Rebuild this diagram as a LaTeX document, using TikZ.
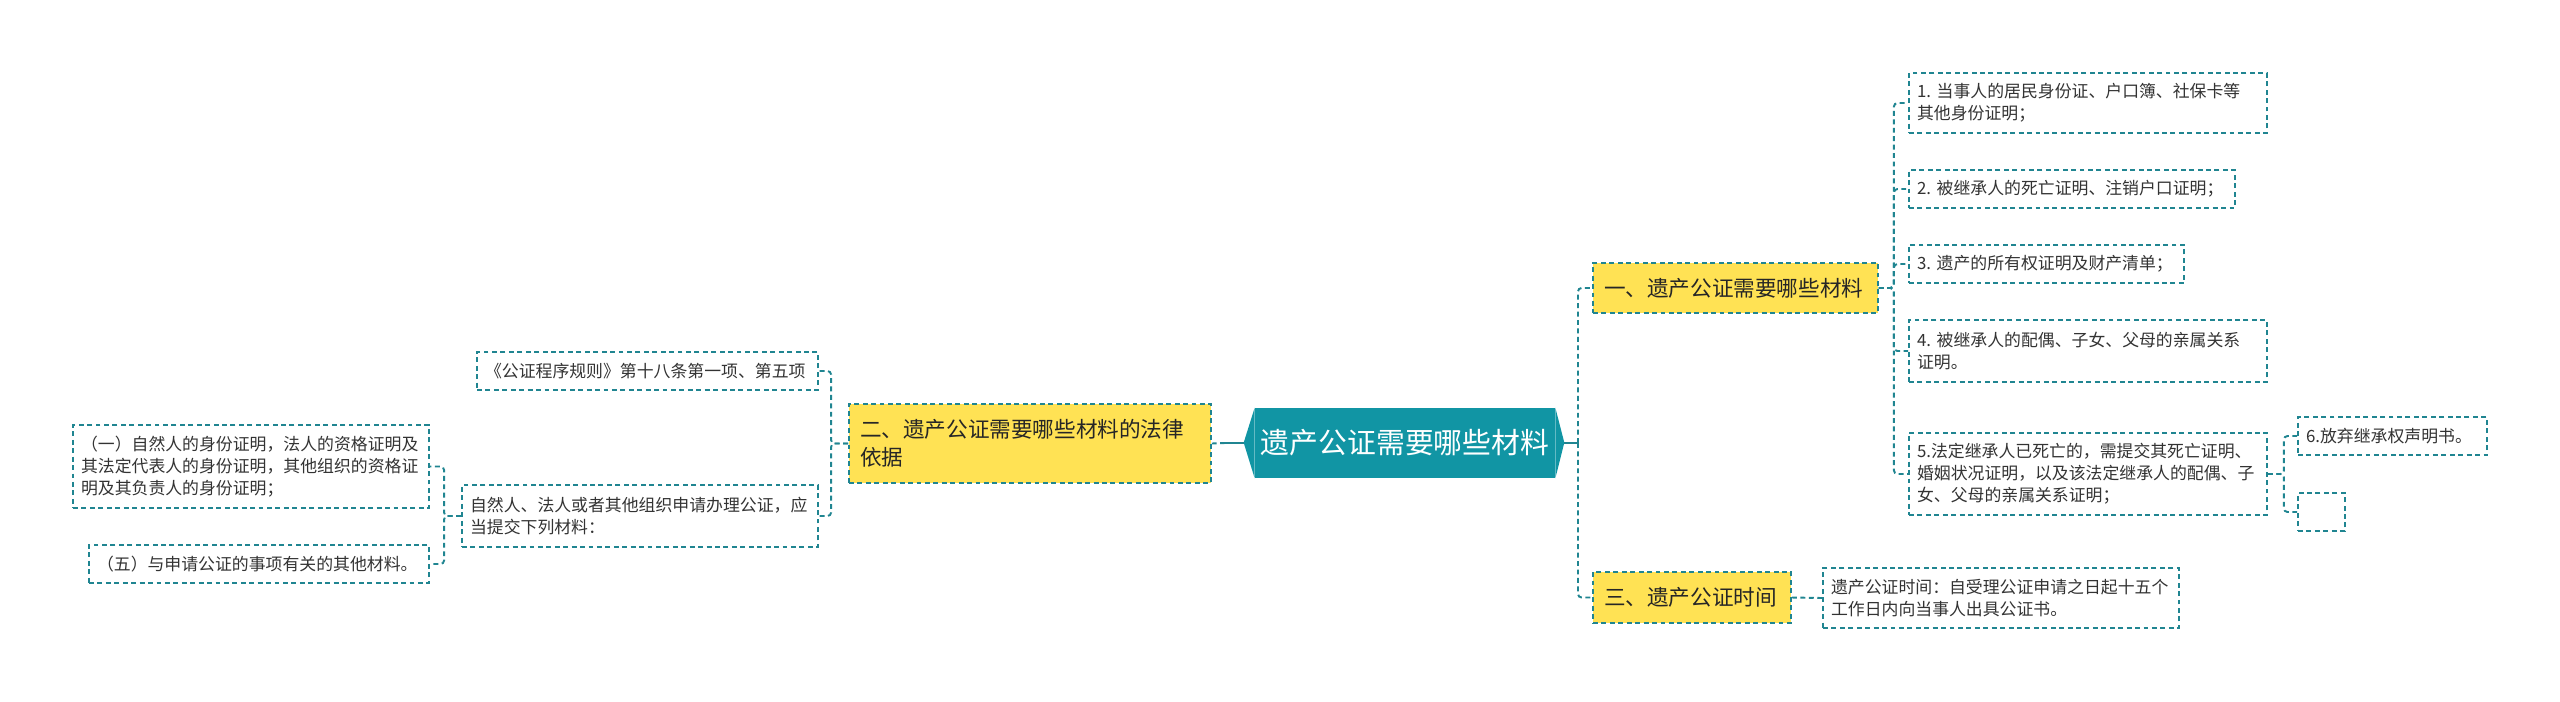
\documentclass[tikz,border=0pt]{standalone}
\usepackage{fontspec}
\newfontfamily\cjk{Noto Sans CJK SC}
\definecolor{rootfill}{RGB}{17,149,164}
\definecolor{linkc}{RGB}{32,133,145}
\definecolor{topicfill}{RGB}{255,226,84}
\definecolor{txt}{RGB}{51,51,51}

\begin{document}
\begin{tikzpicture}[x=0.02cm,y=-0.02cm,
    rootbox/.style={fill=rootfill, text=white,
        font=\cjk\fontsize{16.4pt}{20pt}\selectfont,
        minimum width=6.0cm, minimum height=1.4cm, inner sep=0pt},
    topic/.style={draw=linkc, line width=1.1pt, dash pattern=on 2.8pt off 2pt,
        fill=topicfill, text=black!85, align=left, inner xsep=0.22cm, inner ysep=0.1cm,
        font=\cjk\fontsize{12.3pt}{15.9pt}\selectfont},
    leaf/.style={draw=linkc, line width=1.1pt, dash pattern=on 2.8pt off 2pt,
        fill=white, text=txt, align=left, inner xsep=0.16cm, inner ysep=0.1cm,
        font=\cjk\fontsize{9.6pt}{12.5pt}\selectfont},
    link/.style={draw=linkc, line width=1.1pt, dash pattern=on 2.8pt off 2pt, rounded corners=2pt},
    rootline/.style={draw=linkc, line width=1.4pt}]
\useasboundingbox (0,0) rectangle (2560,701);

\node[rootbox] (root) at (1405,443) {遗产公证需要哪些材料};
\fill[rootfill] (root.north east) -- ++(9,35) -- (root.south east) -- cycle;
\fill[rootfill] (root.north west) -- ++(-11,35) -- (root.south west) -- cycle;

\node[topic, text width=5.26cm, minimum height=1cm] (mat) at (1735.5,288) {一、遗产公证需要哪些材料};
\node[topic, text width=3.52cm, minimum height=1.02cm] (time) at (1692,597.5) {三、遗产公证时间};
\node[topic, text width=6.8cm, minimum height=1.58cm] (law) at (1030,443.5) {二、遗产公证需要哪些材料的法律\\依据};

\node[leaf, text width=6.84cm, minimum height=1.2cm] (m1) at (2088,103) {1.~当事人的居民身份证、户口簿、社保卡等\\其他身份证明；};
\node[leaf, text width=6.2cm, minimum height=0.76cm] (m2) at (2072,189) {2.~被继承人的死亡证明、注销户口证明；};
\node[leaf, text width=5.18cm, minimum height=0.76cm] (m3) at (2046.5,264) {3.~遗产的所有权证明及财产清单；};
\node[leaf, text width=6.84cm, minimum height=1.24cm] (m4) at (2088,351) {4.~被继承人的配偶、子女、父母的亲属关系\\证明。};
\node[leaf, text width=6.84cm, minimum height=1.64cm] (m5) at (2088,474) {5.法定继承人已死亡的，需提交其死亡证明、\\婚姻状况证明，以及该法定继承人的配偶、子\\女、父母的亲属关系证明；};
\node[leaf, text width=3.46cm, minimum height=0.76cm] (m6) at (2392.5,436) {6.放弃继承权声明书。};
\node[leaf, minimum width=0.94cm, minimum height=0.76cm] (mx) at (2321.5,512) {};

\node[leaf, text width=6.8cm, minimum height=1.2cm] (tm) at (2001,598) {遗产公证时间：自受理公证申请之日起十五个\\工作日内向当事人出具公证书。};

\node[leaf, text width=6.5cm, minimum height=0.76cm] (rule) at (647.5,371) {《公证程序规则》第十八条第一项、第五项};
\node[leaf, text width=6.8cm, minimum height=1.24cm] (apply) at (640,516) {自然人、法人或者其他组织申请办理公证，应\\当提交下列材料：};
\node[leaf, text width=6.8cm, minimum height=1.66cm] (id) at (251,466.5) {（一）自然人的身份证明，法人的资格证明及\\其法定代表人的身份证明，其他组织的资格证\\明及其负责人的身份证明；};
\node[leaf, text width=6.48cm, minimum height=0.76cm] (other) at (259,564) {（五）与申请公证的事项有关的其他材料。};

\coordinate (rr) at (1578,443);
\coordinate (rl) at (1225,443);
\draw[rootline] (root.east) ++(9,0) -- (rr);
\draw[link] (rr) |- (mat.west);
\draw[link] (rr) |- (time.west);
\draw[rootline] (root.west) ++(-11,0) -- (rl);
\draw[link] (rl) -- (law.east);

\draw[link] (mat.east) -- ++(15,0) |- (m1.west);
\draw[link] (mat.east) -- ++(15,0) |- (m2.west);
\draw[link] (mat.east) -- ++(15,0) |- (m3.west);
\draw[link] (mat.east) -- ++(15,0) |- (m4.west);
\draw[link] (mat.east) -- ++(15,0) |- (m5.west);
\draw[link] (m5.east) -- ++(16,0) |- (m6.west);
\draw[link] (m5.east) -- ++(16,0) |- (mx.west);
\draw[link] (time.east) -- (tm.west);

\draw[link] (law.west) -- ++(-17,0) |- (rule.east);
\draw[link] (law.west) -- ++(-17,0) |- (apply.east);
\draw[link] (apply.west) -- ++(-17,0) |- (id.east);
\draw[link] (apply.west) -- ++(-17,0) |- (other.east);
\end{tikzpicture}
\end{document}
